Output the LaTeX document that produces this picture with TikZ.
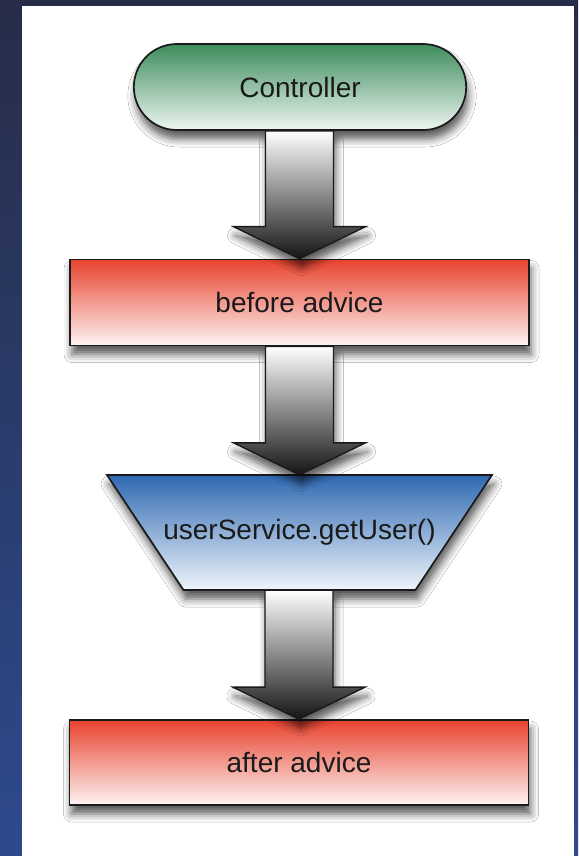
\documentclass[tikz,border=0pt]{standalone}
\usepackage{fontspec}
\setmainfont{Liberation Sans}
\usetikzlibrary{shapes.misc,shadows.blur,calc}
\definecolor{bgTop}{HTML}{272D48}
\definecolor{bgBot}{HTML}{2E4A8E}
\definecolor{grTop}{HTML}{3D8C5C}
\definecolor{grBot}{HTML}{EEF6F1}
\definecolor{rdTop}{HTML}{E8432E}
\definecolor{rdBot}{HTML}{FDF3F3}
\definecolor{blTop}{HTML}{2F69B2}
\definecolor{blBot}{HTML}{EFF5FB}
\definecolor{inkc}{HTML}{1A1A1A}
\tikzset{
  softshadow/.style={blur shadow={shadow xshift=2pt, shadow yshift=-9pt, shadow blur radius=8pt, shadow opacity=65}},
  label font/.style={text=inkc, font=\fontsize{28}{33}\selectfont},
  box/.style={draw=inkc, line width=1.7pt, label font, softshadow},
  ctrlbox/.style={box, rounded rectangle, minimum width=339pt, minimum height=86pt, top color=grTop, bottom color=grBot},
  advbox/.style={box, rectangle, minimum width=459pt, minimum height=86pt, top color=rdTop, bottom color=rdBot},
  svcshape/.style={draw=inkc, line width=1.7pt, top color=blTop, bottom color=blBot, softshadow},
  svctext/.style={label font, minimum width=385pt, minimum height=115pt, inner sep=0pt},
  arrowbody/.style={draw=inkc, line width=1.4pt, top color=white, bottom color=black!92, softshadow}
}
\newcommand\flowarrow[2]{%
  \path[arrowbody] let \p1=(#1.south), \p2=(#2.north) in
    (\x2-34pt,\y1) -- (\x2+34pt,\y1) -- (\x2+34pt,\y2+32pt) -- (\x2+66pt,\y2+32pt)
    -- (\x2,\y2) -- (\x2-66pt,\y2+32pt) -- (\x2-34pt,\y2+32pt) -- cycle;}
\begin{document}
\begin{tikzpicture}[x=1pt,y=-1pt]
\useasboundingbox (0,0) rectangle (578,856);
\fill[top color=bgTop, bottom color=bgBot] (0,0) rectangle (578,856);
\fill[white] (22,6) rectangle (574,856);

\node[ctrlbox] (ctrl) at (300,87) {Controller};
\node[advbox] (before) at (299.5,302.5) {before advice};
\coordinate (svcC) at (299.5,532.5);
\path[svcshape] ($(svcC)+(-192.5,-57.5)$) -- ($(svcC)+(192.5,-57.5)$)
   -- ($(svcC)+(116,57.5)$) -- ($(svcC)+(-116,57.5)$) -- cycle;
\node[svctext] (svc) at (svcC) {userService.getUser()};
\node[advbox, minimum height=85pt] (after) at (299,762.5) {after advice};

\flowarrow{ctrl}{before}
\flowarrow{before}{svc}
\flowarrow{svc}{after}
\end{tikzpicture}
\end{document}
